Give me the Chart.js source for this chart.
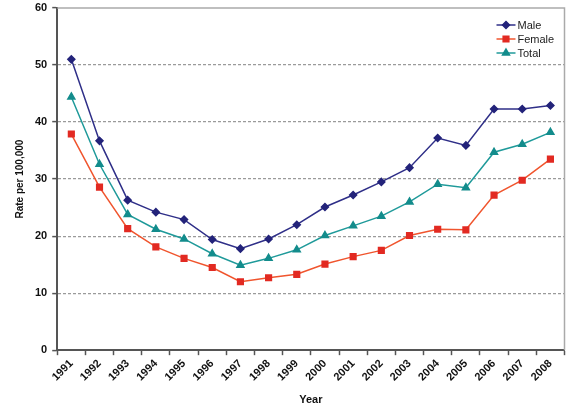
<!DOCTYPE html>
<html lang="en">
<head>
<meta charset="UTF-8">
<title>Rate per 100,000 by year</title>
<script src="https://cdn.jsdelivr.net/npm/chart.js"></script>
<style>
  html, body { margin: 0; padding: 0; background: #fff; }
  #wrap { width: 570px; height: 411px; position: relative; }
</style>
</head>
<body>
<div id="wrap"><canvas id="rateChart"></canvas></div>
<script>
  const years = ['1991','1992','1993','1994','1995','1996','1997','1998','1999',
                 '2000','2001','2002','2003','2004','2005','2006','2007','2008'];
  const male   = [51.0, 36.7, 26.3, 24.2, 22.9, 19.4, 17.8, 19.5, 22.0,
                  25.1, 27.2, 29.5, 32.0, 37.2, 35.9, 42.3, 42.3, 42.9];
  const female = [37.9, 28.6, 21.3, 18.1, 16.1, 14.5, 12.0, 12.7, 13.3,
                  15.1, 16.4, 17.5, 20.1, 21.2, 21.1, 27.2, 29.8, 33.5];
  const total  = [44.4, 32.6, 23.8, 21.2, 19.5, 16.9, 14.9, 16.1, 17.6,
                  20.1, 21.8, 23.5, 26.0, 29.1, 28.5, 34.7, 36.1, 38.2];
  const yMin = 0, yMax = 60, yStep = 10;

  const FONT = "'Liberation Sans', Arial, sans-serif";
  const axisGrey = '#555';

  // top and right edge of the plot box
  const frame = {
    id: 'frame',
    beforeDatasetsDraw(chart) {
      const { ctx, chartArea: a } = chart;
      ctx.save();
      ctx.strokeStyle = '#aaa';
      ctx.lineWidth = 1.5;
      ctx.beginPath();
      ctx.moveTo(a.left, a.top);
      ctx.lineTo(a.right, a.top);
      ctx.lineTo(a.right, a.bottom);
      ctx.stroke();
      ctx.restore();
    }
  };

  // legend with line + marker, like the spreadsheet one
  const lineLegend = {
    id: 'lineLegend',
    afterDraw(chart) {
      const { ctx, chartArea: a } = chart;
      const x0 = a.right - 68, y0 = a.top + 17, gap = 14;
      ctx.save();
      ctx.font = '11px ' + FONT;
      ctx.textBaseline = 'middle';
      chart.data.datasets.forEach((ds, i) => {
        const y = y0 + i * gap;
        ctx.strokeStyle = ds.borderColor;
        ctx.lineWidth = 1.5;
        ctx.beginPath();
        ctx.moveTo(x0, y);
        ctx.lineTo(x0 + 19, y);
        ctx.stroke();
        ctx.fillStyle = ds.pointBackgroundColor;
        ctx.strokeStyle = ds.pointBackgroundColor;
        Chart.helpers.drawPoint(ctx, {
          pointStyle: ds.pointStyle, radius: ds.pointRadius, rotation: 0,
          borderWidth: 1
        }, x0 + 9.5, y);
        ctx.fillStyle = '#222';
        ctx.fillText(ds.label, x0 + 21, y + 1);
      });
      ctx.restore();
    }
  };

  const mkSet = (label, data, line, mark, style, r) => ({
    label, data,
    borderColor: line,
    borderWidth: 1.5,
    pointStyle: style,
    pointRadius: r,
    pointHoverRadius: r,
    pointBackgroundColor: mark,
    pointBorderColor: mark,
    tension: 0
  });

  new Chart(document.getElementById('rateChart'), {
    type: 'line',
    data: {
      labels: years,
      datasets: [
        mkSet('Male', male, '#2f2f88', '#23237a', 'rectRot', 3.5),
        mkSet('Female', female, '#f0552e', '#e22a22', 'rect', 4),
        mkSet('Total', total, '#1f9a9a', '#138c8c', 'triangle', 4)
      ]
    },
    options: {
      responsive: true,
      maintainAspectRatio: false,
      animation: false,
      layout: { padding: { top: 0, right: 5, bottom: 4, left: 14 } },
      plugins: {
        legend: { display: false },
        tooltip: { enabled: false }
      },
      scales: {
        x: {
          offset: true,
          grid: {
            offset: true,
            drawOnChartArea: false,
            tickLength: 5,
            tickColor: axisGrey,
            tickWidth: 1.5
          },
          border: { color: axisGrey, width: 2 },
          ticks: {
            minRotation: 45,
            maxRotation: 45,
            padding: 2,
            color: '#111',
            font: { family: FONT, size: 11, weight: 'bold' }
          },
          title: {
            display: true,
            text: 'Year',
            color: '#111',
            padding: { top: 8, bottom: 0 },
            font: { family: FONT, size: 11, weight: 'bold' }
          }
        },
        y: {
          min: yMin,
          max: yMax,
          afterFit: s => { s.paddingTop = 8; },
          ticks: {
            stepSize: yStep,
            padding: 5,
            color: '#111',
            font: { family: FONT, size: 11, weight: 'bold' }
          },
          grid: {
            color: c => (c.tick && (c.tick.value === yMin || c.tick.value === yMax)) ? 'rgba(0,0,0,0)' : '#9a9a9a',
            lineWidth: 1.2,
            tickLength: 5,
            tickColor: axisGrey,
            tickWidth: 1.5
          },
          border: { color: axisGrey, width: 2, dash: [3, 2] },
          title: {
            display: true,
            text: 'Rate per 100,000',
            color: '#111',
            padding: { top: 0, bottom: 4 },
            font: { family: FONT, size: 10, weight: 'bold' }
          }
        }
      }
    },
    plugins: [frame, lineLegend]
  });
</script>
</body>
</html>
